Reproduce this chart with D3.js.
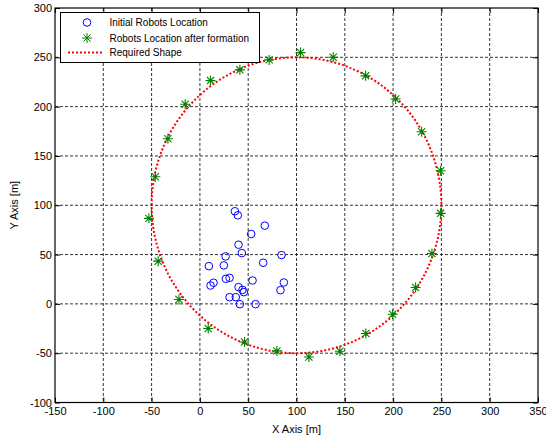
<!DOCTYPE html>
<html>
<head>
<meta charset="utf-8">
<script src="https://cdn.jsdelivr.net/npm/d3@7"></script>
<style>
  body { margin: 0; background: #fff; }
  svg { display: block; font-family: "Liberation Sans", Arial, sans-serif; }
</style>
</head>
<body>
<svg width="546" height="438"></svg>
<script>
// initial robot positions (blue circles)
var initialX = [36.2, 39.3, 67.2, 53.1, 40.0, 43.4, 26.6, 84.5, 9.3, 24.8, 65.5, 26.9, 30.7,
                14.1, 11.0, 54.5, 86.9, 83.4, 40.0, 44.1, 45.5, 30.7, 37.2, 41.4, 57.6];
var initialY = [93.9, 89.8, 79.3, 70.8, 60.0, 51.5, 48.1, 49.5, 38.3, 39.0, 41.7, 25.4, 26.4,
                21.4, 18.6, 23.7, 21.7, 13.9, 17.0, 14.2, 11.9, 6.8, 6.8, -0.3, -0.3];

// robot positions after formation (green stars)
var finalX = [11.0, 41.4, 71.7, 104.2, 138.0, 171.5, 202.6, 229.5, 249.2, 249.2, 240.2, 223.3,
              199.5, 171.8, 144.9, 112.8, 79.7, 46.2, 8.6, -21.7, -43.2, -52.8, -46.2, -33.1, -15.2];
var finalY = [226.4, 237.3, 247.4, 254.8, 250.1, 231.2, 207.8, 174.6, 135.0, 91.8, 51.1, 16.6,
              -10.5, -30.0, -48.0, -53.8, -47.7, -38.6, -25.0, 4.4, 43.3, 86.7, 128.9, 167.5, 202.4];

// required shape: circle
var shapeCenter = [100, 100];
var shapeRadius = 150;

var xTicks = [-150, -100, -50, 0, 50, 100, 150, 200, 250, 300, 350];
var yTicks = [-100, -50, 0, 50, 100, 150, 200, 250, 300];

var legendLabels = ["Initial Robots Location", "Robots Location after formation", "Required Shape"];

var plotL = 55, plotR = 538, plotT = 8, plotB = 402.5;

var svg = d3.select("svg");

var x = d3.scaleLinear().domain([-150, 350]).range([plotL, plotR]);
var y = d3.scaleLinear().domain([-100, 300]).range([plotB, plotT]);

var fmt = function(d){ return String(d); };

// grid
var grid = svg.append("g")
  .attr("stroke", "#000")
  .attr("stroke-width", 0.8)
  .attr("stroke-dasharray", "3,2");

grid.selectAll(".vg")
  .data(xTicks.slice(1, -1))
  .enter().append("line")
    .attr("x1", function(d){ return x(d); })
    .attr("x2", function(d){ return x(d); })
    .attr("y1", plotT).attr("y2", plotB);

grid.selectAll(".hg")
  .data(yTicks.slice(1, -1))
  .enter().append("line")
    .attr("y1", function(d){ return y(d); })
    .attr("y2", function(d){ return y(d); })
    .attr("x1", plotL).attr("x2", plotR);

// axes (ticks inside, box on)
svg.append("g")
  .attr("transform", "translate(0," + plotB + ")")
  .call(d3.axisBottom(x).tickValues(xTicks).tickFormat(fmt).tickSizeInner(-5).tickSizeOuter(0).tickPadding(5));
svg.append("g")
  .attr("transform", "translate(" + plotL + ",0)")
  .call(d3.axisLeft(y).tickValues(yTicks).tickFormat(fmt).tickSizeInner(-5).tickSizeOuter(0).tickPadding(3));
svg.append("g")
  .attr("transform", "translate(0," + plotT + ")")
  .call(d3.axisTop(x).tickValues(xTicks).tickSizeInner(-5).tickSizeOuter(0).tickFormat(""));
svg.append("g")
  .attr("transform", "translate(" + plotR + ",0)")
  .call(d3.axisRight(y).tickValues(yTicks).tickSizeInner(-5).tickSizeOuter(0).tickFormat(""));

svg.selectAll(".domain").remove();
svg.selectAll(".tick text")
  .attr("font-size", 11)
  .attr("font-family", "Liberation Sans, Arial, sans-serif")
  .attr("fill", "#000");
svg.selectAll(".tick line").attr("stroke", "#000");

// frame
svg.append("rect")
  .attr("x", plotL).attr("y", plotT)
  .attr("width", plotR - plotL).attr("height", plotB - plotT)
  .attr("fill", "none")
  .attr("stroke", "#000")
  .attr("stroke-width", 1.2);

// required shape
svg.append("ellipse")
  .attr("cx", x(shapeCenter[0]))
  .attr("cy", y(shapeCenter[1]))
  .attr("rx", x(shapeCenter[0] + shapeRadius) - x(shapeCenter[0]))
  .attr("ry", y(shapeCenter[1]) - y(shapeCenter[1] + shapeRadius))
  .attr("fill", "none")
  .attr("stroke", "#ff0000")
  .attr("stroke-width", 2)
  .attr("stroke-dasharray", "2,2");

// initial locations
svg.append("g")
  .selectAll("circle")
  .data(initialX.map(function(d, i){ return [d, initialY[i]]; }))
  .enter().append("circle")
    .attr("cx", function(d){ return x(d[0]); })
    .attr("cy", function(d){ return y(d[1]); })
    .attr("r", 3.8)
    .attr("fill", "none")
    .attr("stroke", "#0000ff")
    .attr("stroke-width", 1);

// star marker path
function star(s) {
  var d = s * 0.72;
  return "M" + (-s) + ",0H" + s + "M0," + (-s) + "V" + s +
         "M" + (-d) + "," + (-d) + "L" + d + "," + d +
         "M" + (-d) + "," + d + "L" + d + "," + (-d);
}

svg.append("g")
  .selectAll("path")
  .data(finalX.map(function(d, i){ return [d, finalY[i]]; }))
  .enter().append("path")
    .attr("transform", function(d){ return "translate(" + x(d[0]) + "," + y(d[1]) + ")"; })
    .attr("d", star(5))
    .attr("fill", "none")
    .attr("stroke", "#008000")
    .attr("stroke-width", 1.1);

// axis titles
svg.append("text")
  .attr("x", (plotL + plotR) / 2)
  .attr("y", 433)
  .attr("text-anchor", "middle")
  .attr("font-size", 11)
  .text("X Axis [m]");

svg.append("text")
  .attr("transform", "translate(18," + ((plotT + plotB) / 2) + ") rotate(-90)")
  .attr("text-anchor", "middle")
  .attr("font-size", 11)
  .text("Y Axis [m]");

// legend
var legend = svg.append("g");
legend.append("rect")
  .attr("x", 60.5).attr("y", 12.5)
  .attr("width", 199).attr("height", 50)
  .attr("fill", "#fff")
  .attr("stroke", "#000")
  .attr("stroke-width", 1);

var rowY = [22.5, 38, 52.5];

legend.append("circle")
  .attr("cx", 87).attr("cy", rowY[0])
  .attr("r", 3.8)
  .attr("fill", "none")
  .attr("stroke", "#0000ff");

legend.append("path")
  .attr("transform", "translate(87," + rowY[1] + ")")
  .attr("d", star(5))
  .attr("fill", "none")
  .attr("stroke", "#008000");

legend.append("line")
  .attr("x1", 68).attr("x2", 104)
  .attr("y1", rowY[2]).attr("y2", rowY[2])
  .attr("stroke", "#ff0000")
  .attr("stroke-width", 2)
  .attr("stroke-dasharray", "2,2");

legend.selectAll(".lt")
  .data(legendLabels)
  .enter().append("text")
    .attr("x", 109.5)
    .attr("y", function(d, i){ return rowY[i] + 3.5; })
    .attr("font-size", 10)
    .text(function(d){ return d; });
</script>
</body>
</html>
